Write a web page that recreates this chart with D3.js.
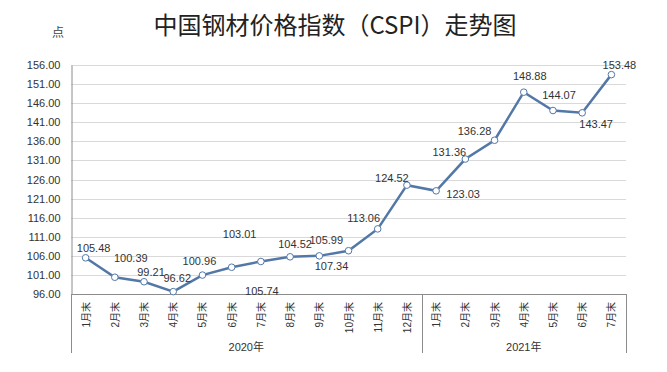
<!DOCTYPE html>
<html>
<head>
<meta charset="utf-8">
<script src="https://cdn.jsdelivr.net/npm/d3@7"></script>
<style>
body{margin:0;background:#fff;}
text{font-family:"Liberation Sans","Noto Sans CJK SC",sans-serif;}
</style>
</head>
<body>
<div id="chart"></div>
<script>
// data
var months = ["1月末","2月末","3月末","4月末","5月末","6月末","7月末","8月末","9月末","10月末","11月末","12月末",
              "1月末","2月末","3月末","4月末","5月末","6月末","7月末"];
var years = ["2020年","2021年"];
var yearCounts = [12, 7];
var values = [105.48,100.39,99.21,96.62,100.96,103.01,104.52,105.74,105.99,107.34,113.06,124.52,
              123.03,131.36,136.28,148.88,144.07,143.47,153.48];
// labels as printed on the chart
var shownLabels = ["105.48","100.39","99.21","96.62","100.96","103.01","105.74","104.52","105.99","107.34","113.06","124.52",
                   "123.03","131.36","136.28","148.88","144.07","143.47","153.48"];
var yTicks = d3.range(96, 157, 5);

// layout: label offset from its point (dx, dy of text centre)
var labelOff = [[8,-10],[16,-19],[7,-10],[4,-14],[-3,-14],[8,-33],[1,30],[5,-13],[7,-16],[-17,15],[-14,-11],[-15,-7],
                [27,3],[-16,-7],[-20,-9],[6,-16],[6,-16],[14,11],[8,-10]];

var width = 667, height = 372;
var plotL = 71, plotR = 626, plotT = 65, plotB = 294;

var svg = d3.select("#chart").append("svg")
    .attr("width", width)
    .attr("height", height);

var x = d3.scaleBand().domain(d3.range(months.length)).range([plotL, plotR]);
var y = d3.scaleLinear().domain([96, 156]).range([plotB, plotT]);

// gridlines
svg.append("g")
  .selectAll("line")
  .data(yTicks)
  .enter().append("line")
    .attr("x1", plotL).attr("x2", plotR)
    .attr("y1", function(d){return Math.round(y(d))+0.5;})
    .attr("y2", function(d){return Math.round(y(d))+0.5;})
    .attr("stroke", "#d9d9d9");

// y axis
var yAxis = svg.append("g")
    .attr("transform", "translate(" + (plotL+0.5) + ",0)")
    .call(d3.axisLeft(y).tickValues(yTicks).tickSize(0).tickPadding(11).tickFormat(d3.format(".2f")));
yAxis.select(".domain").attr("stroke", "#8c8c8c");
yAxis.selectAll("text").attr("font-size", 11).attr("fill", "#333");

// x axis line
svg.append("line")
    .attr("x1", plotL).attr("x2", plotR)
    .attr("y1", plotB+0.5).attr("y2", plotB+0.5)
    .attr("stroke", "#8c8c8c");

// month labels
svg.append("g")
  .selectAll("text")
  .data(months)
  .enter().append("text")
    .attr("transform", function(d,i){
        return "translate(" + (x(i)+x.bandwidth()/2+4) + "," + (plotB+8) + ") rotate(-90)";
    })
    .attr("text-anchor", "end")
    .attr("font-size", 10)
    .attr("fill", "#333")
    .text(function(d){return d;});

// year groups
var starts = [0, yearCounts[0]];
var seps = [0, yearCounts[0], months.length];
svg.append("g")
  .selectAll("line")
  .data(seps)
  .enter().append("line")
    .attr("x1", function(d){return Math.round(d === months.length ? plotR : x(d))+0.5;})
    .attr("x2", function(d){return Math.round(d === months.length ? plotR : x(d))+0.5;})
    .attr("y1", plotB).attr("y2", 353)
    .attr("stroke", "#8c8c8c");

svg.append("g")
  .selectAll("text")
  .data(years)
  .enter().append("text")
    .attr("x", function(d,i){
        var s = starts[i], e = s + yearCounts[i];
        return (x(s) + (e === months.length ? plotR : x(e))) / 2;
    })
    .attr("y", 351)
    .attr("text-anchor", "middle")
    .attr("font-size", 11)
    .attr("fill", "#333")
    .text(function(d){return d;});

// line
var line = d3.line()
    .x(function(d,i){return x(i)+x.bandwidth()/2;})
    .y(function(d){return y(d);});

svg.append("path")
    .datum(values)
    .attr("d", line)
    .attr("fill", "none")
    .attr("stroke", "#5378a8")
    .attr("stroke-width", 2.5);

svg.append("g")
  .selectAll("circle")
  .data(values)
  .enter().append("circle")
    .attr("cx", function(d,i){return x(i)+x.bandwidth()/2;})
    .attr("cy", function(d){return y(d);})
    .attr("r", 3.3)
    .attr("fill", "#fff")
    .attr("stroke", "#5378a8")
    .attr("stroke-width", 1);

// data labels
svg.append("g")
  .selectAll("text")
  .data(values)
  .enter().append("text")
    .attr("x", function(d,i){return x(i)+x.bandwidth()/2+labelOff[i][0];})
    .attr("y", function(d,i){return y(d)+labelOff[i][1]+4;})
    .attr("text-anchor", "middle")
    .attr("font-size", 11)
    .attr("fill", "#333")
    .text(function(d,i){return shownLabels[i];});

// titles
svg.append("text")
    .attr("x", 335).attr("y", 34)
    .attr("text-anchor", "middle")
    .attr("font-size", 24)
    .attr("fill", "#222")
    .style("font-family", "'Noto Sans CJK SC',sans-serif")
    .text("中国钢材价格指数（CSPI）走势图");

svg.append("text")
    .attr("x", 58).attr("y", 37)
    .attr("text-anchor", "middle")
    .attr("font-size", 12)
    .attr("fill", "#444")
    .style("font-family", "'Noto Sans CJK SC',sans-serif")
    .text("点");
</script>
</body>
</html>
